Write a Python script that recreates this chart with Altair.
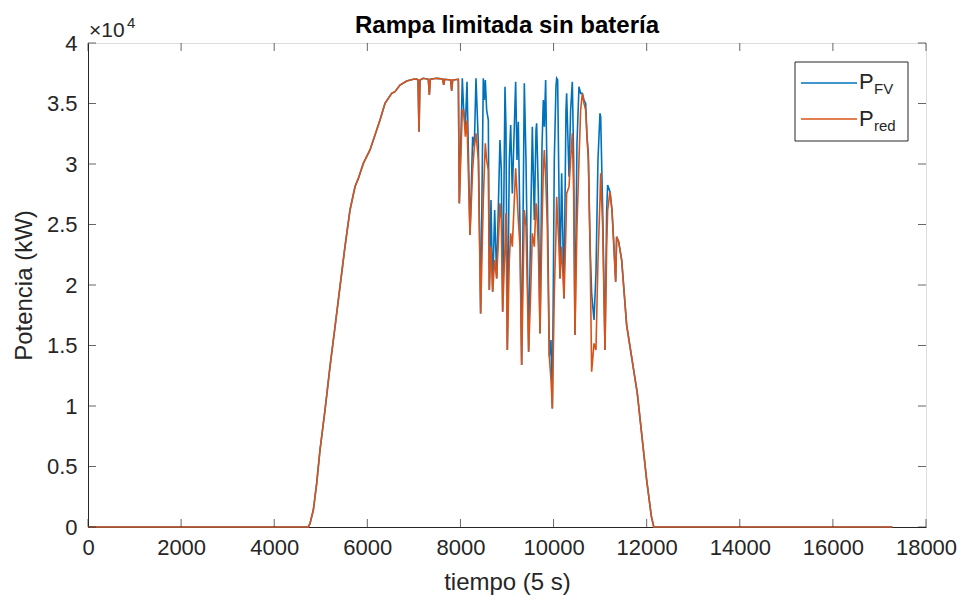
import altair as alt
import pandas as pd

BLUE = "#0072BD"
ORANGE = "#D95319"
INK = "#262626"
FONT = "Liberation Sans"

# ---- data (time index in 5 s steps, power in kW) ----
# sunrise ramp and clipped plateau: both series identical
rise_t = [0, 4733, 4769, 4840, 4912, 4983, 5091, 5198, 5306, 5413,
          5520, 5628, 5735, 5807, 5914, 6057, 6165, 6272, 6380, 6523,
          6594, 6702, 6845, 6988, 7060, 7089, 7110, 7131, 7203, 7310,
          7332, 7353, 7489, 7618, 7640, 7661, 7790, 7811, 7833, 7955]
rise_p = [0, 0, 300, 1400, 3600, 6360, 9670, 13250, 16550, 19860,
          23170, 26200, 28120, 28810, 30050, 31160, 32390, 33630, 35010, 35840,
          35980, 36530, 36860, 37000, 37020, 36940, 32670, 36940, 37080, 37000,
          35700, 37000, 37080, 37020, 36530, 37000, 36940, 36060, 36940, 37000]

# cloudy period: PV power and ramp-limited grid power
osc_t = [7976, 8040, 8069, 8105, 8141, 8205, 8262, 8298, 8334, 8384,
         8434, 8491, 8513, 8534, 8563, 8599, 8620, 8656, 8692, 8735,
         8778, 8821, 8849, 8878, 8907, 8957, 8978, 9007, 9050, 9079,
         9114, 9157, 9186, 9215, 9243, 9279, 9315, 9372, 9408, 9465,
         9508, 9544, 9587, 9623, 9637, 9673, 9709, 9752, 9780, 9802,
         9830, 9866, 9909, 9945, 9974, 10016, 10052, 10067, 10088, 10117,
         10138, 10174, 10224, 10267, 10281, 10332, 10367, 10403, 10432, 10460,
         10503, 10546, 10582, 10618, 10654, 10690, 10718, 10747, 10783, 10818,
         10869, 10911, 10954, 10997, 11012, 11055, 11105, 11141, 11162, 11212,
         11255, 11298, 11334, 11355]
osc_fv = [26747, 37078, 34461, 33083, 36802, 24129, 32257, 31430, 37078, 31706,
          17655, 37078, 35287, 36940, 34461, 33634, 19584, 27022, 19446, 26196,
          20548, 27573, 31981, 29502, 17793, 36389, 33083, 14624, 30328, 33221,
          27573, 33083, 36802, 30328, 33496, 24818, 13384, 36665, 30328, 14486,
          24818, 33083, 25369, 32808, 33359, 27573, 16002, 31430, 35287, 33083,
          36940, 27573, 14073, 15451, 9803, 30328, 36389, 37078, 36940, 27573,
          20548, 29226, 18895, 34461, 35838, 28951, 34461, 36802, 30328, 15864,
          31706, 36389, 35838, 35838, 35287, 35012, 32257, 30879, 23441, 19308,
          17104, 20961, 30328, 34185, 33910, 26196, 14624, 26196, 28262, 27711,
          26196, 23165, 20272, 23992]
osc_red = [26747, 34461, 34461, 32257, 33580, 24129, 29502, 31430, 32532, 30328,
           17655, 27022, 29502, 31706, 30328, 29502, 19584, 23165, 19446, 22063,
           20548, 24267, 26747, 25369, 17793, 23165, 25920, 14624, 22063, 24267,
           23165, 27022, 29639, 27573, 25369, 23165, 13384, 26196, 24818, 14486,
           19308, 24267, 23165, 26747, 26471, 23165, 16002, 24818, 29502, 31155,
           28951, 24818, 14073, 12145, 9803, 19308, 24267, 27298, 25369, 23165,
           20548, 23165, 18895, 24818, 27573, 28124, 30328, 32532, 27573, 15864,
           24818, 30328, 34461, 35838, 35012, 34461, 32257, 30328, 23441, 12833,
           15175, 14624, 22063, 27022, 29226, 24818, 14624, 23165, 26196, 27711,
           26196, 22890, 20272, 23992]

# sunset decline and night: both series identical
fall_t = [11398, 11463, 11570, 11799, 12000, 12100, 12153, 17280]
fall_p = [23580, 22060, 16690, 11040, 3880, 900, 0, 0]

x_ticks = [0, 2000, 4000, 6000, 8000, 10000, 12000, 14000, 16000, 18000]
y_ticks = [0, 5000, 10000, 15000, 20000, 25000, 30000, 35000, 40000]

df_fv = pd.DataFrame({"t": rise_t + osc_t + fall_t, "p": rise_p + osc_fv + fall_p})
df_red = pd.DataFrame({"t": rise_t + osc_t + fall_t, "p": rise_p + osc_red + fall_p})

xscale = alt.Scale(domain=[0, 18000], nice=False, zero=False)
yscale = alt.Scale(domain=[0, 40000], nice=False, zero=False)

xaxis = alt.Axis(values=x_ticks, ticks=False, grid=False, domainColor=INK, domainWidth=1,
                 labelFont=FONT, labelFontSize=22, labelColor=INK, labelPadding=10,
                 labelOverlap=False, labelFlush=False, format="d",
                 title="tiempo (5 s)", titleFont=FONT, titleFontSize=24,
                 titleFontWeight="normal", titleColor=INK, titlePadding=12)
yaxis = alt.Axis(values=y_ticks, ticks=False, grid=False, domainColor=INK, domainWidth=1,
                 labelFont=FONT, labelFontSize=22, labelColor=INK, labelPadding=11,
                 labelOverlap=False, labelFlush=False, labelExpr="datum.value / 10000",
                 title="Potencia (kW)", titleFont=FONT, titleFontSize=24,
                 titleFontWeight="normal", titleColor=INK, titlePadding=10)

W, H = 838, 484

line_fv = alt.Chart(df_fv).mark_line(color=BLUE, strokeWidth=1.6).encode(
    x=alt.X("t:Q", scale=xscale, axis=xaxis),
    y=alt.Y("p:Q", scale=yscale, axis=yaxis),
)
line_red = alt.Chart(df_red).mark_line(color=ORANGE, strokeWidth=1.6).encode(
    x=alt.X("t:Q", scale=xscale),
    y=alt.Y("p:Q", scale=yscale),
)

xt = pd.DataFrame({"t": x_ticks})
yt = pd.DataFrame({"p": y_ticks})
tick_b = alt.Chart(xt).mark_tick(color=INK, size=8, thickness=1, orient="vertical").encode(
    x=alt.X("t:Q", scale=xscale), y=alt.value(H - 4))
tick_t = alt.Chart(xt).mark_tick(color=INK, size=8, thickness=1, orient="vertical").encode(
    x=alt.X("t:Q", scale=xscale), y=alt.value(4))
tick_l = alt.Chart(yt).mark_tick(color=INK, size=8, thickness=1, orient="horizontal").encode(
    y=alt.Y("p:Q", scale=yscale), x=alt.value(4))
tick_r = alt.Chart(yt).mark_tick(color=INK, size=8, thickness=1, orient="horizontal").encode(
    y=alt.Y("p:Q", scale=yscale), x=alt.value(W - 4))

one = pd.DataFrame({"k": [0]})
title_txt = alt.Chart(one).mark_text(text="Rampa limitada sin batería", align="center",
                                     baseline="alphabetic", font=FONT, fontSize=24,
                                     fontWeight="bold", color="black").encode(
    x=alt.value(W / 2), y=alt.value(-10))
exp_main = alt.Chart(one).mark_text(text="×10", align="left", baseline="alphabetic",
                                    font=FONT, fontSize=21, color=INK).encode(
    x=alt.value(1), y=alt.value(-6))
exp_sup = alt.Chart(one).mark_text(text="4", align="left", baseline="alphabetic",
                                   font=FONT, fontSize=15, color=INK).encode(
    x=alt.value(39), y=alt.value(-15))

leg_box = alt.Chart(one).mark_rect(fill="white", stroke=INK, strokeWidth=1).encode(
    x=alt.value(707), x2=alt.value(820), y=alt.value(19), y2=alt.value(98))
leg_l1 = alt.Chart(one).mark_rule(color=BLUE, strokeWidth=1.6).encode(
    x=alt.value(713), x2=alt.value(769), y=alt.value(40))
leg_l2 = alt.Chart(one).mark_rule(color=ORANGE, strokeWidth=1.6).encode(
    x=alt.value(713), x2=alt.value(769), y=alt.value(76))
leg_p1 = alt.Chart(one).mark_text(text="P", align="left", baseline="alphabetic",
                                  font=FONT, fontSize=22, color=INK).encode(
    x=alt.value(771), y=alt.value(46))
leg_s1 = alt.Chart(one).mark_text(text="FV", align="left", baseline="alphabetic",
                                  font=FONT, fontSize=15, color=INK).encode(
    x=alt.value(786), y=alt.value(51))
leg_p2 = alt.Chart(one).mark_text(text="P", align="left", baseline="alphabetic",
                                  font=FONT, fontSize=22, color=INK).encode(
    x=alt.value(771), y=alt.value(83))
leg_s2 = alt.Chart(one).mark_text(text="red", align="left", baseline="alphabetic",
                                  font=FONT, fontSize=15, color=INK).encode(
    x=alt.value(786), y=alt.value(88))

chart = alt.layer(
    line_fv, line_red, tick_b, tick_t, tick_l, tick_r, title_txt,
    exp_main, exp_sup, leg_box, leg_l1, leg_l2, leg_p1, leg_s1, leg_p2, leg_s2,
).properties(
    width=W, height=H,
    autosize=alt.AutoSizeParams(type="none"),
    padding={"left": 88, "top": 43, "right": 36, "bottom": 77},
).configure_view(stroke=INK, strokeWidth=1).configure(background="white")

chart.save("out.html", embed_options={"renderer": "svg", "actions": False})
